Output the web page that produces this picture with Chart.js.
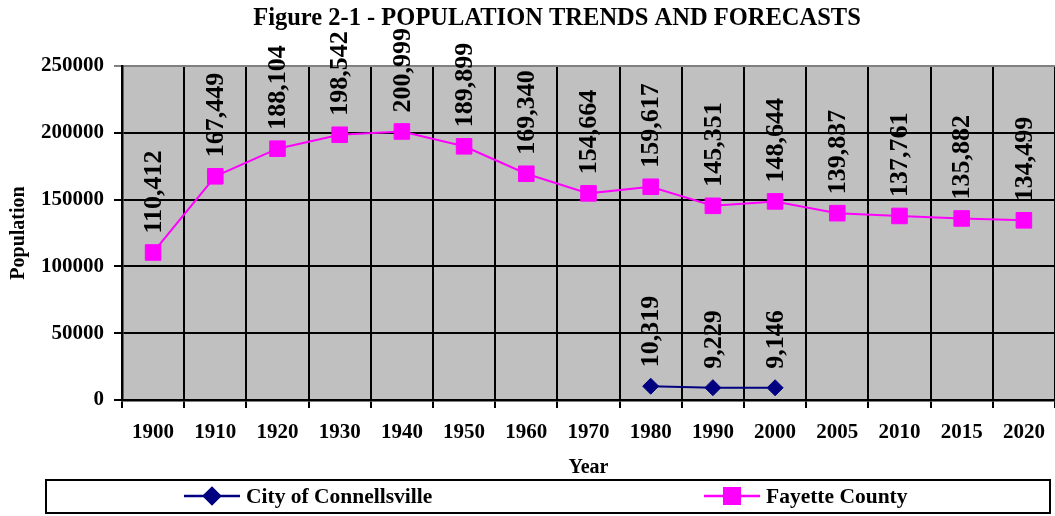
<!DOCTYPE html>
<html>
<head>
<meta charset="utf-8">
<script src="https://cdn.jsdelivr.net/npm/chart.js@4.4.1/dist/chart.umd.min.js"></script>
<style>
  html, body { margin: 0; padding: 0; background: #fff; overflow: hidden; }
  #wrap { width: 1055px; height: 516px; position: relative; }
</style>
</head>
<body>
<div id="wrap"><canvas id="popChart"></canvas></div>
<script>
const years = ['1900', '1910', '1920', '1930', '1940', '1950', '1960', '1970', '1980', '1990', '2000', '2005', '2010', '2015', '2020'];
const fayette = [110412, 167449, 188104, 198542, 200999, 189899, 169340, 154664, 159617, 145351, 148644, 139837, 137761, 135882, 134499];
const connellsville = [null, null, null, null, null, null, null, null, 10319, 9229, 9146, null, null, null, null];
const yTicks = [0, 50000, 100000, 150000, 200000, 250000];

const serif = '"Liberation Serif", "Times New Roman", serif';

// grey plot area, title, value labels and legend box
const excelLook = {
    id: 'excelLook',
    beforeDraw(chart) {
        const {ctx, chartArea: a} = chart;
        ctx.save();
        ctx.fillStyle = '#c0c0c0';
        ctx.fillRect(a.left, a.top, a.right - a.left, a.bottom - a.top);
        ctx.restore();
    },
    afterDatasetsDraw(chart) {
        const ctx = chart.ctx;
        ctx.save();
        ctx.fillStyle = '#000';
        ctx.font = 'bold 26px ' + serif;
        ctx.textAlign = 'left';
        ctx.textBaseline = 'middle';
        chart.data.datasets.forEach((ds, i) => {
            chart.getDatasetMeta(i).data.forEach((pt, j) => {
                const v = ds.data[j];
                if (v === null) return;
                ctx.save();
                ctx.translate(pt.x, pt.y - 19);
                ctx.rotate(-Math.PI / 2);
                ctx.fillText(v.toLocaleString('en-US'), 0, 1);
                ctx.restore();
            });
        });
        ctx.restore();
    },
    afterDraw(chart) {
        const ctx = chart.ctx;
        ctx.save();
        // title
        ctx.fillStyle = '#000';
        ctx.font = 'bold 24.5px ' + serif;
        ctx.textAlign = 'center';
        ctx.textBaseline = 'middle';
        ctx.fillText('Figure 2-1 - POPULATION TRENDS AND FORECASTS', 557, 19);

        // legend
        ctx.strokeStyle = '#000';
        ctx.lineWidth = 2;
        ctx.strokeRect(46, 480, 1004, 33);
        const items = [
            {text: chart.data.datasets[0].label, x: 184, ds: chart.data.datasets[0]},
            {text: chart.data.datasets[1].label, x: 704, ds: chart.data.datasets[1]}
        ];
        ctx.font = 'bold 21.5px ' + serif;
        ctx.textAlign = 'left';
        items.forEach(it => {
            const y = 496;
            ctx.strokeStyle = it.ds.borderColor;
            ctx.lineWidth = 2.5;
            ctx.beginPath();
            ctx.moveTo(it.x, y);
            ctx.lineTo(it.x + 56, y);
            ctx.stroke();
            Chart.helpers.drawPoint(ctx, {
                pointStyle: it.ds.pointStyle,
                radius: it.ds.pointRadius,
                borderWidth: 1
            }, it.x + 28, y);
            ctx.fillStyle = it.ds.pointBackgroundColor;
            ctx.strokeStyle = it.ds.pointBorderColor;
            ctx.fill();
            ctx.fillStyle = '#000';
            ctx.fillText(it.text, it.x + 62, y + 1);
        });
        ctx.restore();
    }
};

new Chart(document.getElementById('popChart'), {
    type: 'line',
    data: {
        labels: years,
        datasets: [
            {
                label: 'City of Connellsville',
                data: connellsville,
                borderColor: '#000080',
                borderWidth: 2,
                pointStyle: 'rectRot',
                pointRadius: 8,
                pointBackgroundColor: '#000080',
                pointBorderColor: '#000080',
                pointBorderWidth: 1,
                spanGaps: false
            },
            {
                label: 'Fayette County',
                data: fayette,
                borderColor: '#ff00ff',
                borderWidth: 2,
                pointStyle: 'rect',
                pointRadius: 11,
                pointBackgroundColor: '#ff00ff',
                pointBorderColor: '#ff00ff',
                pointBorderWidth: 1
            }
        ]
    },
    options: {
        responsive: true,
        maintainAspectRatio: false,
        animation: false,
        events: [],
        layout: {
            autoPadding: false,
            // plot area runs a little past the right edge, as in the scan
            padding: {top: 66, right: -7, bottom: 38, left: 0}
        },
        plugins: {
            legend: {display: false},
            tooltip: {enabled: false}
        },
        scales: {
            x: {
                offset: true,
                grid: {
                    offset: true,
                    color: '#000',
                    lineWidth: 2,
                    tickLength: 8
                },
                border: {color: '#000', width: 2.5},
                ticks: {
                    color: '#000',
                    padding: 12,
                    maxRotation: 0,
                    autoSkip: false,
                    font: {family: serif, size: 21, weight: 'bold'}
                },
                title: {
                    display: true,
                    text: 'Year',
                    color: '#000',
                    padding: {top: 0, bottom: 0},
                    font: {family: serif, size: 20, weight: 'bold', lineHeight: 1.0}
                },
                afterFit(scale) {
                    scale.height = 78;
                    scale.paddingLeft = 0;
                    scale.paddingRight = 0;
                }
            },
            y: {
                min: 0,
                max: 250000,
                afterBuildTicks(scale) { scale.ticks = yTicks.map(v => ({value: v})); },
                grid: {
                    color: ctx => (ctx.tick && ctx.tick.value === 250000) ? '#808080' : '#000',
                    lineWidth: 2,
                    tickLength: 8
                },
                border: {color: '#000', width: 2.5},
                ticks: {
                    color: '#000',
                    padding: 10,
                    callback: v => String(v),
                    font: {family: serif, size: 21, weight: 'bold'}
                },
                title: {
                    display: true,
                    text: 'Population',
                    color: '#000',
                    padding: {top: 7, bottom: 0},
                    font: {family: serif, size: 20, weight: 'bold'}
                },
                afterFit(scale) { scale.width = 122; }
            }
        }
    },
    plugins: [excelLook]
});
</script>
</body>
</html>
